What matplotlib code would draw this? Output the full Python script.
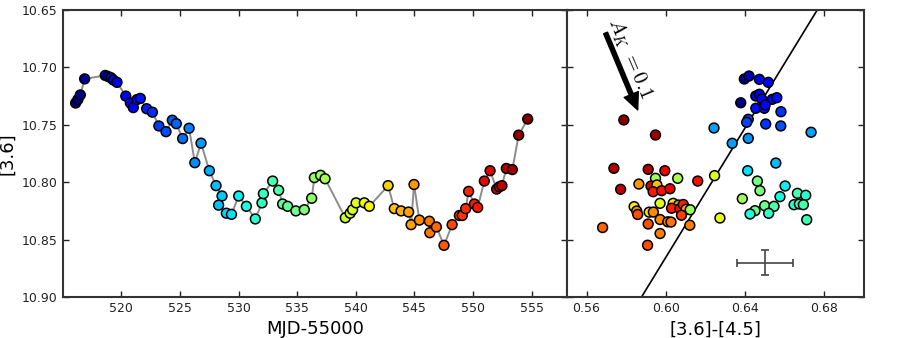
import numpy as np
import matplotlib
matplotlib.use("Agg")
import matplotlib.pyplot as plt
from matplotlib.colors import Normalize

# ---- Left panel: light curve ----
mjd = [516.10, 516.29, 516.50, 516.87, 518.63, 518.89, 519.12, 519.32, 519.63, 520.38,
       520.77, 521.02, 521.34, 521.62, 522.16, 522.65, 523.20, 523.81, 524.35, 524.69,
       525.23, 525.78, 526.27, 526.80, 527.51, 528.08, 528.59, 528.30, 528.96, 529.40,
       530.01, 530.67, 531.43, 532.00, 532.12, 532.91, 533.42, 533.76, 534.19, 534.89,
       535.61, 536.24, 536.47, 537.00, 537.38, 539.11, 539.52, 539.73, 540.03, 540.73,
       541.16, 542.76, 543.29, 543.87, 544.51, 544.72, 544.97, 545.43, 546.28, 546.32,
       546.88, 547.53, 548.22, 548.84, 549.09, 549.38, 549.63, 550.12, 550.40, 550.97,
       551.46, 552.02, 552.25, 552.47, 552.85, 553.36, 553.90, 554.67]
mag36 = [10.731, 10.728, 10.724, 10.710, 10.707, 10.708, 10.709, 10.711, 10.713, 10.725,
         10.731, 10.735, 10.728, 10.727, 10.736, 10.739, 10.751, 10.756, 10.746, 10.749,
         10.762, 10.753, 10.783, 10.766, 10.790, 10.803, 10.812, 10.820, 10.827, 10.828,
         10.812, 10.821, 10.832, 10.818, 10.810, 10.799, 10.807, 10.819, 10.821, 10.825,
         10.824, 10.814, 10.796, 10.794, 10.797, 10.831, 10.827, 10.824, 10.818, 10.818,
         10.821, 10.803, 10.823, 10.825, 10.826, 10.837, 10.802, 10.833, 10.834, 10.844,
         10.839, 10.855, 10.837, 10.829, 10.829, 10.823, 10.808, 10.819, 10.822, 10.799,
         10.790, 10.806, 10.804, 10.803, 10.788, 10.789, 10.759, 10.745]

# ---- Right panel: colour-magnitude ----
col3645 = [0.5788, 0.5948, 0.6243, 0.5738, 0.5911, 0.5995, 0.5948, 0.6060, 0.6246, 0.5864,
           0.6161, 0.5925, 0.5955, 0.5936, 0.5979, 0.6021, 0.5772, 0.5840, 0.5853, 0.5858,
           0.5916, 0.5937, 0.5971, 0.6037, 0.6064, 0.6029, 0.6071, 0.6088, 0.6102, 0.6123,
           0.6079, 0.5911, 0.5971, 0.6010, 0.6026, 0.6121, 0.5681, 0.5971, 0.5908, 0.6273,
           0.6396, 0.6420, 0.6472, 0.6517, 0.6378, 0.6454, 0.6472, 0.6484, 0.6537, 0.6560,
           0.6454, 0.6497, 0.6501, 0.6581, 0.6416, 0.6408, 0.6504, 0.6580, 0.6733, 0.6416,
           0.6335, 0.6555, 0.6413, 0.6462, 0.6602, 0.6475, 0.6386, 0.6576, 0.6664, 0.6706,
           0.6499, 0.6546, 0.6647, 0.6674, 0.6694, 0.6450, 0.6425, 0.6519, 0.6711]
mag36_r = [10.7458, 10.7589, 10.7528, 10.7879, 10.7888, 10.7900, 10.7966, 10.7966, 10.7943, 10.8016,
           10.7990, 10.8033, 10.8024, 10.8083, 10.8074, 10.8057, 10.8062, 10.8213, 10.8251, 10.8281,
           10.8261, 10.8260, 10.8184, 10.8184, 10.8199, 10.8227, 10.8231, 10.8194, 10.8236, 10.8240,
           10.8288, 10.8364, 10.8325, 10.8345, 10.8347, 10.8375, 10.8395, 10.8447, 10.8549, 10.8312,
           10.7101, 10.7075, 10.7104, 10.7130, 10.7308, 10.7249, 10.7234, 10.7275, 10.7278, 10.7264,
           10.7356, 10.7356, 10.7328, 10.7386, 10.7452, 10.7478, 10.7493, 10.7510, 10.7565, 10.7618,
           10.7661, 10.7833, 10.7900, 10.7990, 10.8033, 10.8074, 10.8144, 10.8126, 10.8097, 10.8114,
           10.8205, 10.8210, 10.8196, 10.8190, 10.8196, 10.8248, 10.8277, 10.8271, 10.8327]
mjd_r = [554.5, 553.5, 527.0, 553.0, 553.0, 551.0, 537.0, 537.5, 540.0, 545.0,
         550.5, 551.5, 543.5, 550.0, 550.5, 551.0, 552.5, 541.5, 545.0, 548.0,
         541.5, 545.5, 540.0, 542.0, 545.0, 550.0, 550.5, 550.0, 544.5, 537.0,
         548.5, 548.0, 545.5, 546.0, 546.5, 546.0, 547.0, 546.0, 548.0, 540.5,
         516.5, 518.0, 520.0, 520.5, 516.5, 520.5, 519.5, 521.0, 521.0, 521.5,
         521.5, 521.5, 521.0, 523.0, 523.5, 523.5, 523.0, 524.0, 527.0, 526.5,
         527.0, 528.0, 529.5, 535.0, 530.0, 535.5, 537.0, 530.5, 533.0, 531.5,
         534.5, 533.0, 531.5, 532.5, 533.0, 534.5, 531.0, 531.5, 532.5]

# reddening line, extinction arrow, typical error
line_slope = -2.82
line_point = (0.5881, 10.899)
arrow_start = (0.5696, 10.670)
arrow_end = (0.5858, 10.737)
arrow_label = r'$A_K\ =0.1$'
err_center = (0.650, 10.870)
err_x, err_y = 0.0143, 0.0109

left_xticks = [520, 525, 530, 535, 540, 545, 550, 555]
right_xticks = [0.56, 0.60, 0.64, 0.68]
yticks = [10.65, 10.70, 10.75, 10.80, 10.85, 10.90]

plt.rcParams['mathtext.fontset'] = 'cm'
fig = plt.figure(figsize=(9, 3.38), dpi=100)
axL = fig.add_axes([0.0697, 0.1213, 0.5600, 0.8491])
axR = fig.add_axes([0.6297, 0.1213, 0.3303, 0.8491], sharey=axL)

norm = Normalize(vmin=min(mjd), vmax=max(mjd))
cmap = plt.get_cmap('jet')

axL.plot(mjd, mag36, color='#8c8c8c', lw=1.4, zorder=1)
axL.scatter(mjd, mag36, c=mjd, cmap=cmap, norm=norm, s=50, edgecolors='k',
            linewidths=1.1, zorder=2)

axR.scatter(col3645, mag36_r, c=mjd_r, cmap=cmap, norm=norm, s=50, edgecolors='k',
            linewidths=1.1, zorder=2)
axR.axline(line_point, slope=line_slope, color='k', lw=1.2, zorder=1)
axR.annotate('', xy=arrow_end, xytext=arrow_start,
             arrowprops=dict(facecolor='k', edgecolor='k', width=3, headwidth=11,
                             headlength=12, shrink=0))
axR.text(0.5816, 10.692, arrow_label, rotation=-67, ha='center', va='center', fontsize=15)
axR.errorbar([err_center[0]], [err_center[1]], xerr=err_x, yerr=err_y, color='#444444',
             lw=1.2, capsize=3, capthick=1.2)

axL.set_xlim(515, 558)
axR.set_xlim(0.55, 0.70)
axL.set_ylim(10.90, 10.65)
axL.set_xticks(left_xticks)
axR.set_xticks(right_xticks)
axR.set_xticklabels(['%.2f' % v for v in right_xticks])
axL.set_yticks(yticks)
axL.set_yticklabels(['%.2f' % v for v in yticks])
axR.tick_params(labelleft=False)

for ax in (axL, axR):
    ax.tick_params(direction='in', length=4, width=1, top=True, right=True,
                   labelsize=9, colors='#222222')
    for sp in ax.spines.values():
        sp.set_color('#333333')
        sp.set_linewidth(1.5)

axL.set_xlabel('MJD-55000', fontsize=13)
axR.set_xlabel('[3.6]-[4.5]', fontsize=13)
axL.set_ylabel('[3.6]', fontsize=13)

fig.savefig('out.png', dpi=100)
